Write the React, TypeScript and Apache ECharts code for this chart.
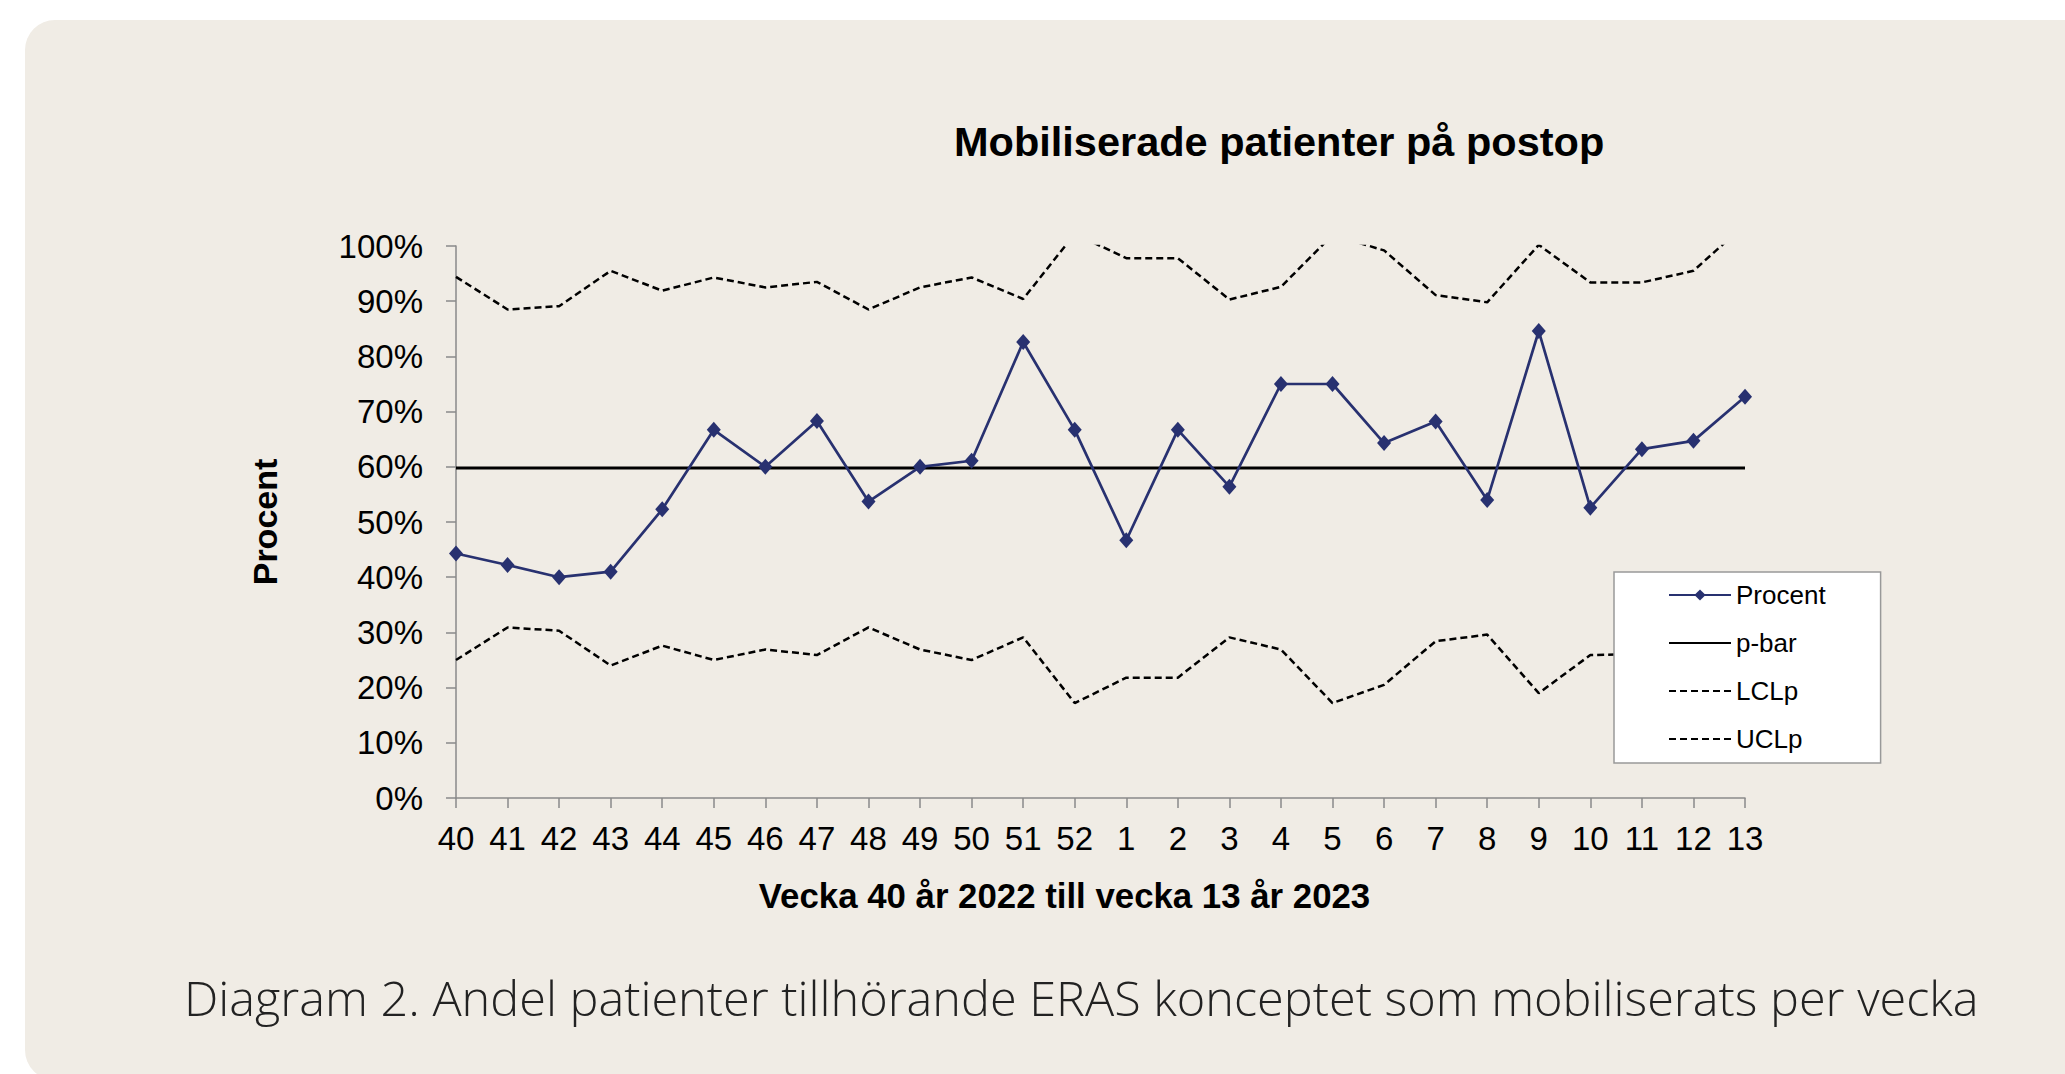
import React, { useEffect, useRef } from "react";
import * as echarts from "echarts";

const weeks = ["40", "41", "42", "43", "44", "45", "46", "47", "48", "49", "50", "51", "52", "1", "2", "3", "4", "5", "6", "7", "8", "9", "10", "11", "12", "13"];
const procent = [44.3, 42.2, 40.0, 41.0, 52.3, 66.7, 60.0, 68.3, 53.7, 60.0, 61.1, 82.6, 66.7, 46.7, 66.7, 56.4, 75.0, 75.0, 64.3, 68.2, 54.0, 84.6, 52.6, 63.2, 64.7, 72.7];
const pBar = [59.8, 59.8, 59.8, 59.8, 59.8, 59.8, 59.8, 59.8, 59.8, 59.8, 59.8, 59.8, 59.8, 59.8, 59.8, 59.8, 59.8, 59.8, 59.8, 59.8, 59.8, 59.8, 59.8, 59.8, 59.8, 59.8];
const lclp = [25.0, 30.9, 30.3, 24.0, 27.6, 25.0, 26.9, 25.9, 30.9, 26.9, 25.0, 29.1, 17.2, 21.8, 21.8, 29.1, 26.9, 17.2, 20.5, 28.4, 29.6, 19.0, 25.9, 26.1, 24.0, 15.5];
const uclp = [94.4, 88.5, 89.1, 95.5, 91.9, 94.3, 92.5, 93.5, 88.5, 92.5, 94.3, 90.4, 102.2, 97.8, 97.8, 90.3, 92.6, 102.0, 99.2, 91.1, 89.8, 100.2, 93.4, 93.4, 95.5, 103.9];

const yTicks = { min: 0, max: 100, interval: 10 };

const FONT = "'Liberation Sans', Arial, sans-serif";

export default function App() {
  const ref = useRef<HTMLDivElement>(null);

  useEffect(() => {
    if (!ref.current) return;
    const chart = echarts.init(ref.current, undefined, { renderer: "svg" });
    const dash = { type: [7, 4] as any, width: 2.5, color: "#000" };
    const hideSym = { opacity: 0 };
    chart.setOption({
      animation: false,
      backgroundColor: "#ffffff",
      textStyle: { fontFamily: FONT },
      graphic: [
        {
          type: "rect",
          z: -10,
          shape: { x: 25, y: 20, width: 2100, height: 1060, r: 30 },
          style: { fill: "#F0ECE5" },
        },
        {
          type: "text",
          left: 184,
          top: 972,
          style: {
            text: "Diagram 2. Andel patienter tillhörande ERAS konceptet som mobiliserats per vecka",
            font: "300 48.6px 'Open Sans', Lato, sans-serif",
            fill: "#222222",
          },
        },
      ],
      title: {
        text: "Mobiliserade patienter på postop",
        left: 954,
        top: 120,
        padding: 0,
        textStyle: { fontFamily: FONT, fontWeight: "bold", fontSize: 41.5, color: "#000" },
      },
      legend: {
        orient: "vertical",
        left: 1614,
        top: 572,
        padding: [10, 55, 11, 54],
        itemGap: 22,
        itemWidth: 62,
        itemHeight: 14,
        backgroundColor: "#ffffff",
        borderColor: "#999999",
        borderWidth: 1.5,
        selectedMode: false,
        data: [
          { name: "Procent" },
          { name: "p-bar", itemStyle: hideSym },
          { name: "LCLp", itemStyle: hideSym },
          { name: "UCLp", itemStyle: hideSym },
        ],
        textStyle: { fontFamily: FONT, fontSize: 26, color: "#000" },
      },
      grid: { left: 456, right: 320, top: 246, bottom: 276, containLabel: false },
      xAxis: {
        type: "category",
        data: weeks,
        boundaryGap: false,
        name: "Vecka 40 år 2022 till vecka 13 år 2023",
        nameLocation: "middle",
        nameGap: 80,
        nameTextStyle: { fontFamily: FONT, fontWeight: "bold", fontSize: 34.8, color: "#000", padding: [0, 72, 0, 0] },
        axisLine: { lineStyle: { color: "#8a8a8a", width: 1.5 } },
        axisTick: { show: true, alignWithLabel: true, length: 10, lineStyle: { color: "#8a8a8a", width: 1.5 } },
        axisLabel: { fontFamily: FONT, fontSize: 33, color: "#000", margin: 24, interval: 0 },
        splitLine: { show: false },
      },
      yAxis: {
        type: "value",
        min: yTicks.min,
        max: yTicks.max,
        interval: yTicks.interval,
        name: "Procent",
        nameLocation: "middle",
        nameGap: 174,
        nameTextStyle: { fontFamily: FONT, fontWeight: "bold", fontSize: 34, color: "#000" },
        axisLine: { show: true, lineStyle: { color: "#8a8a8a", width: 1.5 } },
        axisTick: { show: true, length: 10, lineStyle: { color: "#8a8a8a", width: 1.5 } },
        axisLabel: { fontFamily: FONT, fontSize: 33, color: "#000", margin: 33, formatter: "{value}%" },
        splitLine: { show: false },
      },
      series: [
        {
          name: "LCLp",
          type: "line",
          data: lclp,
          symbol: "none",
          clip: true,
          lineStyle: dash,
          itemStyle: { color: "#000" },
          z: 2,
        },
        {
          name: "UCLp",
          type: "line",
          data: uclp,
          symbol: "none",
          clip: true,
          lineStyle: dash,
          itemStyle: { color: "#000" },
          z: 2,
        },
        {
          name: "p-bar",
          type: "line",
          data: pBar,
          symbol: "none",
          lineStyle: { color: "#000", width: 3 },
          itemStyle: { color: "#000" },
          z: 3,
        },
        {
          name: "Procent",
          type: "line",
          data: procent,
          symbol: "diamond",
          symbolSize: [14, 16],
          lineStyle: { color: "#283170", width: 2.7 },
          itemStyle: { color: "#283170" },
          z: 3,
        },
      ],
    });
    return () => chart.dispose();
  }, []);

  return (
    <div
      ref={ref}
      style={{ position: "fixed", left: 0, top: 0, width: 2065, height: 1074 }}
    />
  );
}
